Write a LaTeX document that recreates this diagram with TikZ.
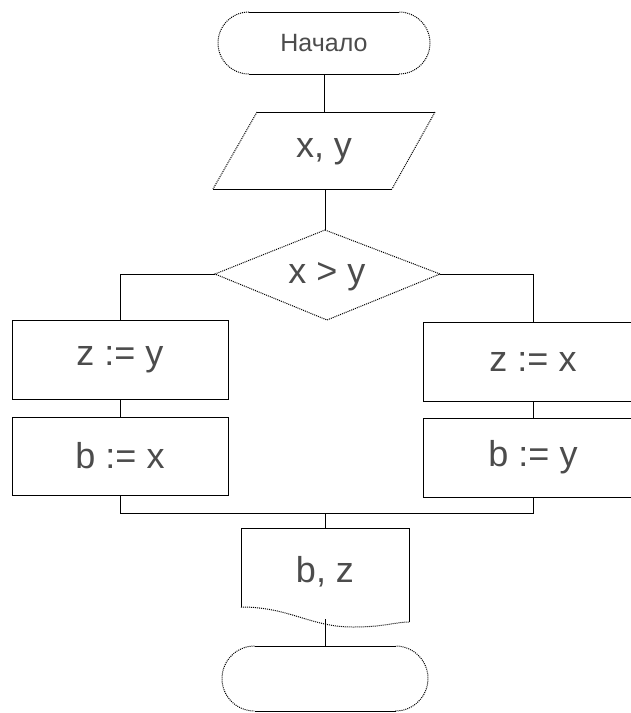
\documentclass[tikz,border=0pt]{standalone}
\usepackage{fontspec}
\setmainfont{Liberation Sans}
\begin{document}
\begin{tikzpicture}[x=1pt,y=1pt,
  solidline/.style={line width=1pt,black},
  dotline/.style={line width=1pt,black,densely dotted},
  box/.style={draw,solidline,rectangle,inner sep=0pt},
  lbl/.style={text=black!70,font=\fontsize{36}{40}\selectfont,inner sep=0pt},
  smalllbl/.style={text=black!70,font=\fontsize{25}{28}\selectfont,inner sep=0pt}]
\useasboundingbox (0,0) rectangle (630,-713);
\fill[white] (0,0) rectangle (630,-713);

% start terminal
\draw[solidline] (249,-12) -- (399,-12);
\draw[solidline] (249,-74) -- (399,-74);
\draw[dotline] (249,-12) arc[start angle=90,end angle=270,radius=31];
\draw[dotline] (399,-74) arc[start angle=-90,end angle=90,radius=31];
\node[smalllbl] (start) at (324,-43) {Начало};
\coordinate (startS) at (324,-74);

% input parallelogram
\draw[solidline] (257,-112) -- (435,-112);
\draw[solidline] (213,-189) -- (392,-189);
\draw[dotline] (257,-112) -- (213,-189);
\draw[dotline] (435,-112) -- (392,-189);
\node[lbl] (in) at (324,-152) {x, y};
\coordinate (inN) at (324,-112);
\coordinate (inS) at (325,-189);

% decision diamond
\coordinate (condN) at (325,-230);
\coordinate (condW) at (215,-274);
\coordinate (condE) at (440,-274);
\coordinate (condS) at (327,-320);
\draw[dotline] (condN) -- (condE) -- (condS) -- (condW) -- cycle;
\node[lbl] (cond) at (327,-277) {x > y};

% branches
\node[box,lbl,draw=black,minimum width=216pt,minimum height=79pt] (a1) at (120,-359.5) {z := y};
\node[box,lbl,draw=black,minimum width=216pt,minimum height=78pt] (a2) at (120,-456) {b := x};
\node[box,lbl,draw=black,minimum width=220pt,minimum height=79pt] (b1) at (533,-361.5) {z := x};
\node[box,lbl,draw=black,minimum width=220pt,minimum height=79pt] (b2) at (533,-457.5) {b := y};

% output document
\draw[solidline] (241,-607) -- (241,-528) -- (409,-528) -- (409,-622);
\draw[dotline] (241,-607) .. controls (290,-607) and (310,-627) .. (353,-627)
                         .. controls (385,-627) and (395,-622) .. (409,-622);
\node[lbl] (out) at (325,-572) {b, z};
\coordinate (outN) at (325,-528);
\coordinate (outS) at (325,-619);

% end terminal
\draw[solidline] (254.5,-646) -- (395.5,-646);
\draw[solidline] (254.5,-711) -- (395.5,-711);
\draw[dotline] (254.5,-646) arc[start angle=90,end angle=270,radius=32.5];
\draw[dotline] (395.5,-711) arc[start angle=-90,end angle=90,radius=32.5];
\coordinate (endN) at (325,-646);

% merge coordinates
\coordinate (mL) at (a2.south |- 0,-513);
\coordinate (mR) at (b2.south |- 0,-513);
\coordinate (mC) at (325,-513);

% connectors
\draw[solidline] (startS) -- (inN);
\draw[solidline] (inS) -- (condN);
\draw[solidline] (condW) -| (a1.north);
\draw[solidline] (condE) -| (b1.north);
\draw[solidline] (a1.south) -- (a2.north);
\draw[solidline] (b1.south) -- (b2.north);
\draw[solidline] (a2.south) -- (mL) -- (mR) -- (b2.south);
\draw[solidline] (mC) -- (outN);
\draw[solidline] (outS) -- (endN);
\end{tikzpicture}
\end{document}
